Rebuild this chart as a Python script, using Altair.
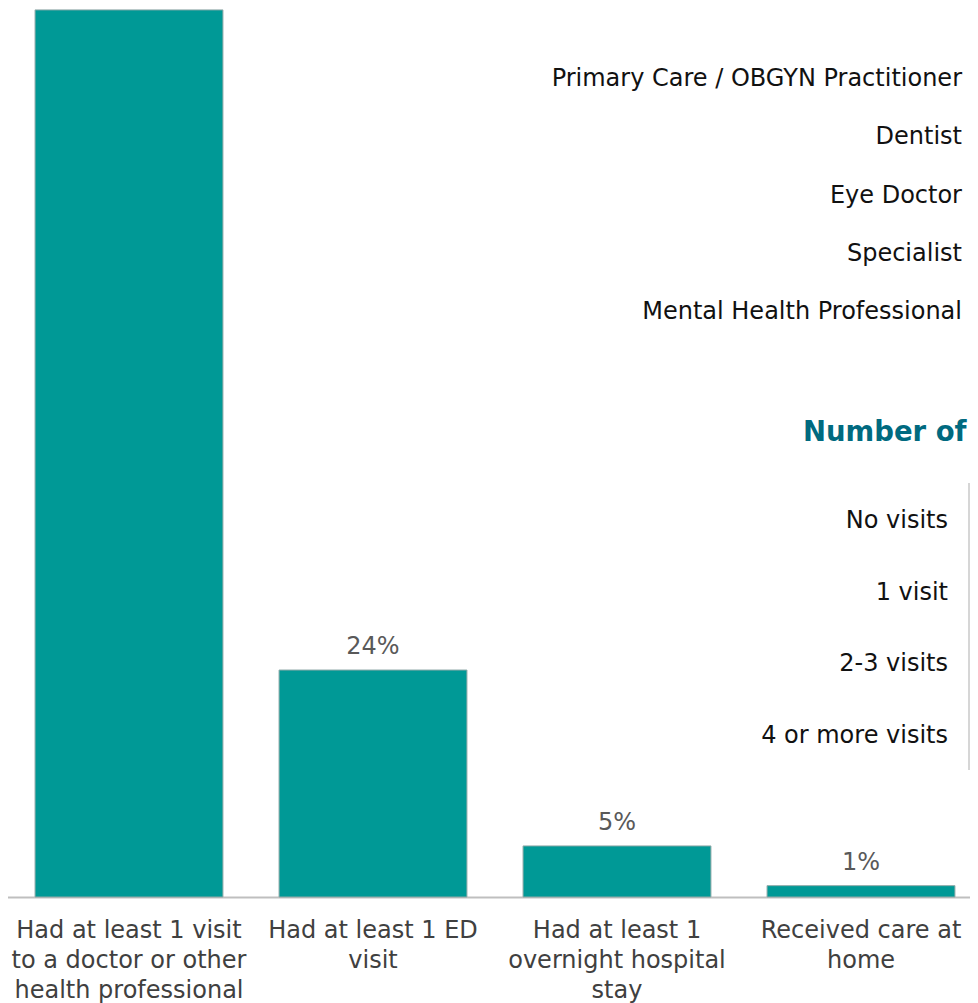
import altair as alt
import pandas as pd

# Main chart data
categories = [
    "Had at least 1 visit|to a doctor or other|health professional",
    "Had at least 1 ED|visit",
    "Had at least 1|overnight hospital|stay",
    "Received care at|home",
]
values = [93.8, 24, 5.4, 1.2]
value_labels = ["", "24%", "5%", "1%"]

# Overlapping (cropped) neighbouring chart texts
providers = [
    "Primary Care / OBGYN Practitioner",
    "Dentist",
    "Eye Doctor",
    "Specialist",
    "Mental Health Professional",
]
visit_bins = ["No visits", "1 visit", "2-3 visits", "4 or more visits"]
side_title = "Number of"

FONT = "DejaVu Sans"
TEAL = "#009996"
BLUE = "#15599F"

main_df = pd.DataFrame({"cat": categories, "value": values, "label": value_labels})
prov_df = pd.DataFrame({"provider": providers})
visit_df = pd.DataFrame({"visit": visit_bins})
title_df = pd.DataFrame({"t": [side_title]})

x_scale = alt.Scale(range=[-1, 975], paddingInner=0.23, paddingOuter=0.115)
x_axis = alt.Axis(
    title=None,
    ticks=False,
    tickSize=0,
    domainColor="#BFBFBF",
    domainWidth=2,
    labelExpr="split(datum.label, '|')",
    labelFont=FONT,
    labelFontSize=24,
    labelColor="#404040",
    labelLineHeight=30,
    labelAngle=0,
    labelLimit=400,
    labelOverlap=False,
    labelPadding=21,
)
x_enc = alt.X("cat:N", sort=None, scale=x_scale, axis=x_axis)
y_enc = alt.Y("value:Q", scale=alt.Scale(domain=[0, 94]), axis=None)

bars = alt.Chart(main_df).mark_bar(color=TEAL, stroke="#8FA9A8", strokeWidth=1).encode(
    x=x_enc, y=y_enc
)
bar_text = alt.Chart(main_df).mark_text(
    font=FONT, fontSize=24, color="#595959", baseline="alphabetic", dy=-16
).encode(x=x_enc, y=y_enc, text="label:N")

prov_text = alt.Chart(prov_df).mark_text(
    font=FONT, fontSize=24, color="#111111", align="right", baseline="middle", dy=1
).encode(
    x=alt.value(954),
    y=alt.Y("provider:N", sort=None,
            scale=alt.Scale(type="point", range=[70, 303], padding=0), axis=None),
    text="provider:N",
)

title_text = alt.Chart(title_df).mark_text(
    font=FONT, fontSize=27.5, fontWeight="bold", color="#006A80", align="left", baseline="alphabetic"
).encode(x=alt.value(795), y=alt.value(433), text="t:N")

visit_text = alt.Chart(visit_df).mark_text(
    font=FONT, fontSize=24, color="#111111", align="right", baseline="middle", dy=1
).encode(
    x=alt.value(940),
    y=alt.Y("visit:N", sort=None,
            scale=alt.Scale(type="point", range=[512, 727], padding=0), axis=None),
    text="visit:N",
)

visit_bars = alt.Chart(visit_df).mark_bar(color=BLUE, height=46, orient="horizontal").encode(
    x=alt.value(966),
    x2=alt.value(1010),
    y=alt.Y("visit:N", sort=None,
            scale=alt.Scale(type="point", range=[512, 727], padding=0), axis=None),
)

vline = alt.Chart(title_df).mark_rule(color="#C8C8C8", strokeWidth=1.5).encode(
    x=alt.value(961), y=alt.value(475), y2=alt.value(762)
)

chart = (
    alt.layer(bars, bar_text, prov_text, title_text, visit_text, visit_bars, vline)
    .resolve_scale(y="independent")
    .properties(
        width=962,
        height=889,
        autosize=alt.AutoSizeParams(type="none"),
        padding={"left": 0, "top": 0, "right": 0, "bottom": 112},
    )
    .configure_view(stroke=None)
)

chart.save("out.html", embed_options={"renderer": "svg", "actions": False})
